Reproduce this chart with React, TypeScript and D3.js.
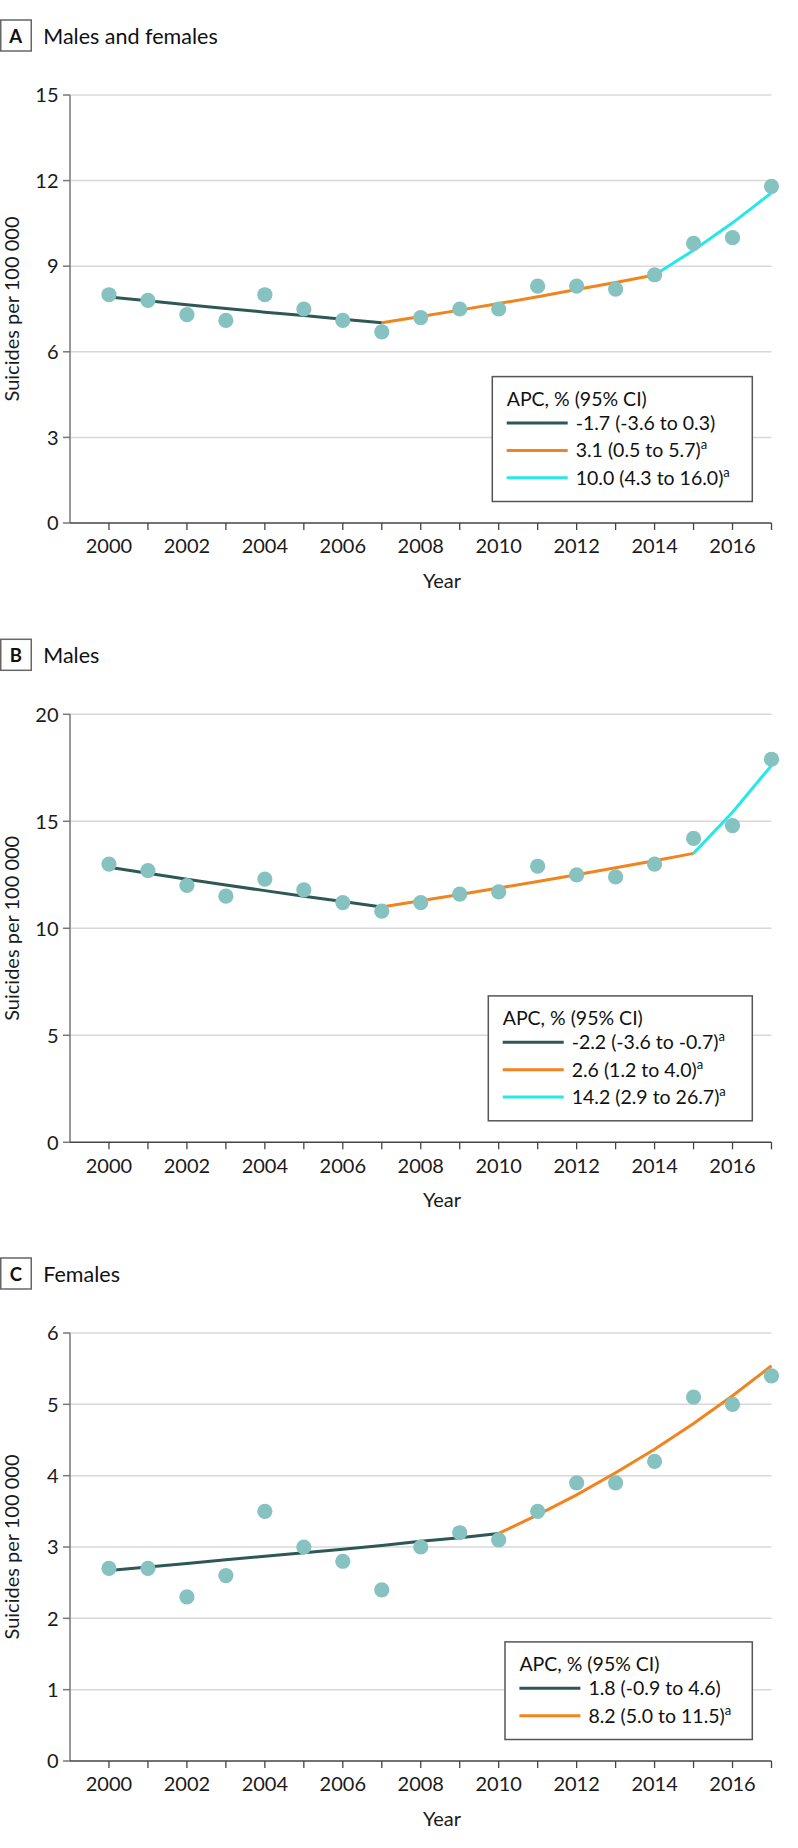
import React from 'react';
import * as d3 from 'd3';

// ---------- data ----------
const years = [2000, 2001, 2002, 2003, 2004, 2005, 2006, 2007, 2008, 2009, 2010, 2011, 2012, 2013, 2014, 2015, 2016, 2017];
const xTickLabels = [2000, 2002, 2004, 2006, 2008, 2010, 2012, 2014, 2016];

const ratesAll = [8.0, 7.8, 7.3, 7.1, 8.0, 7.5, 7.1, 6.7, 7.2, 7.5, 7.5, 8.3, 8.3, 8.2, 8.7, 9.8, 10.0, 11.8];
const ratesMale = [13.0, 12.7, 12.0, 11.5, 12.3, 11.8, 11.2, 10.8, 11.2, 11.6, 11.7, 12.9, 12.5, 12.4, 13.0, 14.2, 14.8, 17.9];
const ratesFemale = [2.7, 2.7, 2.3, 2.6, 3.5, 3.0, 2.8, 2.4, 3.0, 3.2, 3.1, 3.5, 3.9, 3.9, 4.2, 5.1, 5.0, 5.4];

// fitted joinpoint segments
const fitAll1Years = [2000, 2001, 2002, 2003, 2004, 2005, 2006, 2007];
const fitAll1 = [7.92, 7.79, 7.65, 7.52, 7.39, 7.27, 7.14, 7.02];
const fitAll2Years = [2007, 2008, 2009, 2010, 2011, 2012, 2013, 2014];
const fitAll2 = [7.02, 7.24, 7.46, 7.69, 7.93, 8.18, 8.43, 8.69];
const fitAll3Years = [2014, 2015, 2016, 2017];
const fitAll3 = [8.69, 9.56, 10.52, 11.57];

const fitMale1Years = [2000, 2001, 2002, 2003, 2004, 2005, 2006, 2007];
const fitMale1 = [12.85, 12.57, 12.29, 12.02, 11.76, 11.5, 11.25, 11.0];
const fitMale2Years = [2007, 2008, 2009, 2010, 2011, 2012, 2013, 2014, 2015];
const fitMale2 = [11.0, 11.29, 11.58, 11.88, 12.19, 12.5, 12.83, 13.16, 13.5];
const fitMale3Years = [2015, 2016, 2017];
const fitMale3 = [13.5, 15.42, 17.61];

const fitFemale1Years = [2000, 2001, 2002, 2003, 2004, 2005, 2006, 2007, 2008, 2009, 2010];
const fitFemale1 = [2.67, 2.72, 2.77, 2.82, 2.87, 2.92, 2.97, 3.02, 3.08, 3.13, 3.19];
const fitFemale2Years = [2010, 2011, 2012, 2013, 2014, 2015, 2016, 2017];
const fitFemale2 = [3.19, 3.45, 3.73, 4.04, 4.37, 4.73, 5.12, 5.54];

const legendAll = ['-1.7 (-3.6 to 0.3)', '3.1 (0.5 to 5.7)', '10.0 (4.3 to 16.0)'];
const legendAllSup = [false, true, true];
const legendMale = ['-2.2 (-3.6 to -0.7)', '2.6 (1.2 to 4.0)', '14.2 (2.9 to 26.7)'];
const legendMaleSup = [true, true, true];
const legendFemale = ['1.8 (-0.9 to 4.6)', '8.2 (5.0 to 11.5)'];
const legendFemaleSup = [false, true];

const yTicksAll = [0, 3, 6, 9, 12, 15];
const yTicksMale = [0, 5, 10, 15, 20];
const yTicksFemale = [0, 1, 2, 3, 4, 5, 6];

// ---------- style ----------
const FONT = "Lato, 'Open Sans', sans-serif";
const C_DARK = '#2d5855';
const C_ORANGE = '#f0841f';
const C_CYAN = '#26e8e8';
const C_POINT = '#86c2c0';
const segColors = [C_DARK, C_ORANGE, C_CYAN];

const x = d3.scaleLinear().domain([1999, 2017]).range([70, 771.5]);

type Seg = { yrs: number[]; vals: number[] };

interface PanelProps {
  top: number;
  letter: string;
  title: string;
  yMax: number;
  yTicks: number[];
  rates: number[];
  segs: Seg[];
  legendLabels: string[];
  legendSup: boolean[];
  legendLeft: number;
}

function Panel(p: PanelProps) {
  const plotTop = p.top + 75;
  const plotBottom = plotTop + 428;
  const y = d3.scaleLinear().domain([0, p.yMax]).range([plotBottom, plotTop]);
  const line = d3
    .line<[number, number]>()
    .x((d) => x(d[0]))
    .y((d) => y(d[1]));
  const x0 = x.range()[0];
  const x1 = x.range()[1];

  const n = p.legendLabels.length;
  const boxRight = 752.3;
  const boxBottom = plotBottom - 21.5;
  const boxH = 43 + n * 27.3;
  const boxTop = boxBottom - boxH;
  const lineX0 = p.legendLeft + 14.4;

  return (
    <g>
      {/* panel label */}
      <rect x={0.75} y={p.top} width={30.5} height={31} fill="#fff" stroke="#666" strokeWidth={1.5} />
      <text x={15.8} y={p.top + 22.7} textAnchor="middle" fontFamily={FONT} fontWeight={700} fontSize={18.5} fill="#111">
        {p.letter}
      </text>
      <text x={43.3} y={p.top + 24} fontFamily={FONT} fontSize={21.5} fill="#111">
        {p.title}
      </text>

      {/* grid */}
      {p.yTicks
        .filter((t) => t > 0)
        .map((t) => (
          <line key={'g' + t} x1={x0} x2={x1} y1={y(t)} y2={y(t)} stroke="#d8d8d8" strokeWidth={1.5} />
        ))}

      {/* y axis */}
      <line x1={x0} x2={x0} y1={plotTop} y2={plotBottom} stroke="#777" strokeWidth={1.5} />
      {p.yTicks.map((t) => (
        <g key={'yt' + t}>
          <line x1={x0 - 7} x2={x0} y1={y(t)} y2={y(t)} stroke="#777" strokeWidth={1.5} />
          <text x={58.5} y={y(t)} dy="0.36em" textAnchor="end" fontFamily={FONT} fontSize={20} fill="#1a1a1a">
            {t}
          </text>
        </g>
      ))}

      {/* x axis */}
      <line x1={x0} x2={x1} y1={plotBottom} y2={plotBottom} stroke="#444" strokeWidth={1.4} />
      {years.map((yr) => (
        <line key={'xt' + yr} x1={x(yr)} x2={x(yr)} y1={plotBottom} y2={plotBottom + 7} stroke="#444" strokeWidth={1.3} />
      ))}
      {xTickLabels.map((yr) => (
        <text key={'xl' + yr} x={x(yr)} y={plotBottom + 30.3} textAnchor="middle" fontFamily={FONT} fontSize={20} fill="#1a1a1a">
          {yr}
        </text>
      ))}
      <text x={442} y={plotBottom + 64.5} textAnchor="middle" fontFamily={FONT} fontSize={20} fill="#1a1a1a">
        Year
      </text>
      <text
        transform={`translate(18.5, ${(plotTop + plotBottom) / 2}) rotate(-90)`}
        textAnchor="middle"
        fontFamily={FONT}
        fontSize={20}
        fill="#1a1a1a"
      >
        Suicides per 100 000
      </text>

      {/* fitted segments */}
      {p.segs.map((s, i) => (
        <path
          key={'s' + i}
          d={line(s.yrs.map((yr, j) => [yr, s.vals[j]] as [number, number])) || ''}
          fill="none"
          stroke={segColors[i]}
          strokeWidth={3}
        />
      ))}

      {/* points */}
      {years.map((yr, i) => (
        <circle key={'p' + yr} cx={x(yr)} cy={y(p.rates[i])} r={7.6} fill={C_POINT} />
      ))}

      {/* legend */}
      <rect x={p.legendLeft} y={boxTop} width={boxRight - p.legendLeft} height={boxH} fill="#fff" stroke="#555" strokeWidth={1.5} />
      <text x={lineX0} y={boxTop + 29} fontFamily={FONT} fontSize={19.5} fill="#111">
        APC, % (95% CI)
      </text>
      {p.legendLabels.map((lab, i) => {
        const ly = boxTop + 46.4 + i * 27.4;
        return (
          <g key={'lg' + i}>
            <line x1={lineX0} x2={lineX0 + 61} y1={ly} y2={ly} stroke={segColors[i]} strokeWidth={3} />
            <text x={lineX0 + 69} y={ly + 7} fontFamily={FONT} fontSize={19.5} fill="#111">
              {lab}
              {p.legendSup[i] ? (
                <tspan dy={-8} fontSize={13}>
                  a
                </tspan>
              ) : null}
            </text>
          </g>
        );
      })}
    </g>
  );
}

export default function App() {
  const segsAll: Seg[] = [
    { yrs: fitAll1Years, vals: fitAll1 },
    { yrs: fitAll2Years, vals: fitAll2 },
    { yrs: fitAll3Years, vals: fitAll3 },
  ];
  const segsMale: Seg[] = [
    { yrs: fitMale1Years, vals: fitMale1 },
    { yrs: fitMale2Years, vals: fitMale2 },
    { yrs: fitMale3Years, vals: fitMale3 },
  ];
  const segsFemale: Seg[] = [
    { yrs: fitFemale1Years, vals: fitFemale1 },
    { yrs: fitFemale2Years, vals: fitFemale2 },
  ];
  return (
    <svg
      width={798}
      height={1848}
      viewBox="0 0 798 1848"
      style={{ position: 'absolute', left: 0, top: 0, background: '#fff' }}
    >
      <rect x={0} y={0} width={798} height={1848} fill="#fff" />
      <Panel
        top={20}
        letter="A"
        title="Males and females"
        yMax={15}
        yTicks={yTicksAll}
        rates={ratesAll}
        segs={segsAll}
        legendLabels={legendAll}
        legendSup={legendAllSup}
        legendLeft={492.3}
      />
      <Panel
        top={639.3}
        letter="B"
        title="Males"
        yMax={20}
        yTicks={yTicksMale}
        rates={ratesMale}
        segs={segsMale}
        legendLabels={legendMale}
        legendSup={legendMaleSup}
        legendLeft={488.3}
      />
      <Panel
        top={1258}
        letter="C"
        title="Females"
        yMax={6}
        yTicks={yTicksFemale}
        rates={ratesFemale}
        segs={segsFemale}
        legendLabels={legendFemale}
        legendSup={legendFemaleSup}
        legendLeft={505}
      />
    </svg>
  );
}
